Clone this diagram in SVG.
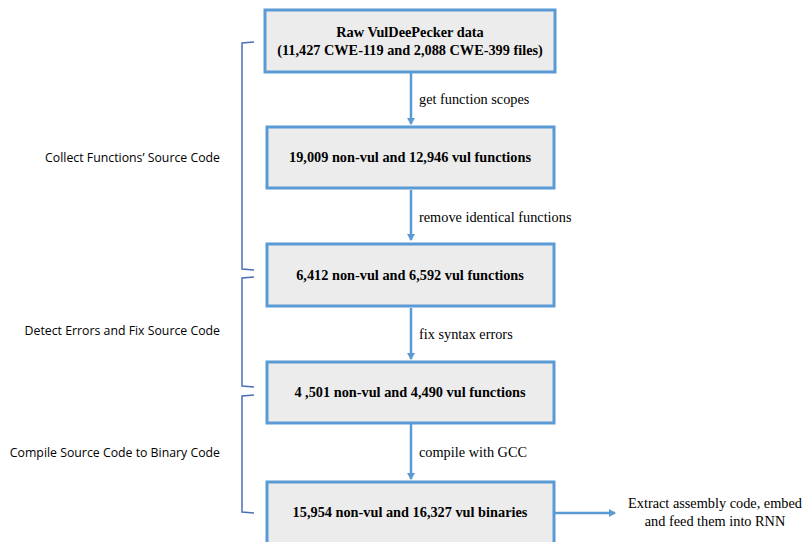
<svg xmlns="http://www.w3.org/2000/svg" width="804" height="542" viewBox="0 0 804 542">
<defs>
<style>
.box{fill:#ececec;stroke:#5b9bd5;stroke-width:3}
.bt{font-family:"Liberation Serif",serif;font-weight:bold;font-size:14.3px;text-anchor:middle;fill:#000}
.lt{font-family:"Liberation Serif",serif;font-size:14.3px;fill:#000}
.st{font-family:"Open Sans","Liberation Sans",sans-serif;font-size:12.3px;fill:#000;text-anchor:end}
.ar{stroke:#5b9bd5;stroke-width:2.5;fill:none}
.br{stroke:#4a70b8;stroke-width:1.5;fill:none}
</style>
<marker id="ah" markerWidth="8" markerHeight="8" refX="6" refY="4" orient="auto" markerUnits="userSpaceOnUse">
<path d="M0,0 L7,4 L0,8 Z" fill="#5b9bd5"/>
</marker>
</defs>
<rect width="804" height="542" fill="#fff"/>
<g id="connectors">
<line class="ar" x1="411" y1="73" x2="411" y2="124" marker-end="url(#ah)"/>
<line class="ar" x1="411" y1="190" x2="411" y2="240" marker-end="url(#ah)"/>
<line class="ar" x1="411" y1="308" x2="411" y2="359" marker-end="url(#ah)"/>
<line class="ar" x1="411" y1="424" x2="411" y2="479" marker-end="url(#ah)"/>
<line class="ar" x1="555" y1="513" x2="615" y2="513" marker-end="url(#ah)"/>
<text class="lt" x="419" y="104">get function scopes</text>
<text class="lt" x="419" y="222">remove identical functions</text>
<text class="lt" x="419" y="339">fix syntax errors</text>
<text class="lt" x="419" y="457">compile with GCC</text>
</g>
<g id="n1"><rect class="box" x="265" y="10" width="290" height="62"/>
<text class="bt" x="410" y="37">Raw VulDeePecker data</text>
<text class="bt" x="410" y="55">(11,427 CWE-119 and 2,088 CWE-399 files)</text></g>
<g id="n2"><rect class="box" x="267" y="127" width="287" height="61"/>
<text class="bt" x="410" y="162">19,009 non-vul and 12,946 vul functions</text></g>
<g id="n3"><rect class="box" x="267" y="244" width="287" height="62"/>
<text class="bt" x="410" y="280">6,412 non-vul and 6,592 vul functions</text></g>
<g id="n4"><rect class="box" x="267" y="362" width="287" height="61"/>
<text class="bt" x="410" y="397">4 ,501 non-vul and 4,490 vul functions</text></g>
<g id="n5"><rect class="box" x="267" y="482" width="287" height="64"/>
<text class="bt" x="410" y="517">15,954 non-vul and 16,327 vul binaries</text></g>
<g id="n6">
<text class="lt" x="715" y="508" text-anchor="middle">Extract assembly code, embed</text>
<text class="lt" x="715" y="526" text-anchor="middle">and feed them into RNN</text></g>
<g id="g1"><path class="br" d="M254,42 L242,43 L242,269 L254,270"/>
<text class="st" x="220" y="162">Collect Functions’ Source Code</text></g>
<g id="g2"><path class="br" d="M254,277 L242,278 L242,386 L254,387"/>
<text class="st" x="220" y="335">Detect Errors and Fix Source Code</text></g>
<g id="g3"><path class="br" d="M254,395 L242,396 L242,512 L254,513"/>
<text class="st" x="220" y="457">Compile Source Code to Binary Code</text></g>
</svg>
